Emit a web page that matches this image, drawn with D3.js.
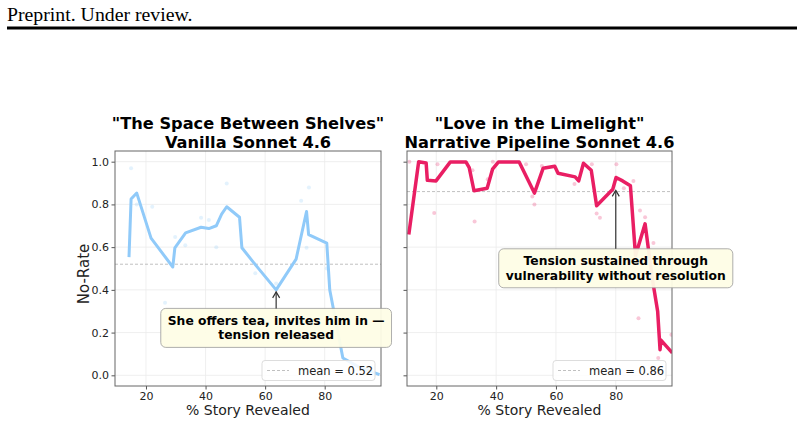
<!DOCTYPE html>
<html>
<head>
<meta charset="utf-8">
<script src="https://cdn.jsdelivr.net/npm/d3@7"></script>
<style>
  body { margin: 0; background: #ffffff; }
  svg text { font-family: "DejaVu Sans", sans-serif; }
</style>
</head>
<body>
<div id="chart"></div>
<script>
// smoothed no-rate curves
const leftX = [14.3, 15.0, 16.9, 21.7, 29.0, 29.7, 33.3, 38.5, 41.1, 43.6, 45.4, 47.1, 51.4, 52.2, 56.7, 63.7, 70.4, 73.9, 74.6, 80.7, 81.7, 86.1, 91.1, 98.4];
const leftY = [0.553, 0.825, 0.853, 0.642, 0.507, 0.597, 0.667, 0.693, 0.687, 0.700, 0.755, 0.789, 0.740, 0.597, 0.518, 0.400, 0.544, 0.767, 0.659, 0.619, 0.399, 0.081, 0.042, 0.003];

const rightX = [10.8, 14.1, 16.6, 17.0, 19.9, 24.7, 29.9, 31.0, 32.6, 37.0, 38.8, 40.8, 47.7, 52.8, 55.7, 59.6, 60.7, 66.4, 67.6, 69.2, 71.8, 73.6, 79.0, 80.1, 82.3, 84.9, 86.6, 89.8, 92.3, 94.0, 94.8, 95.1, 98.9];
const rightY = [0.659, 1.0, 0.994, 0.913, 0.910, 0.999, 0.999, 0.972, 0.864, 0.876, 0.965, 0.999, 0.999, 0.853, 0.969, 0.979, 0.946, 0.929, 0.910, 0.993, 0.960, 0.794, 0.871, 0.926, 0.910, 0.887, 0.560, 0.709, 0.445, 0.300, 0.120, 0.165, 0.105];

// faint raw points behind the curves
const leftDotsX = [15.0, 16.9, 22.1, 26.4, 29.8, 33.2, 38.5, 41.1, 43.6, 47.1, 56.7, 63.7, 72.1, 73.9, 74.7, 80.7];
const leftDotsY = [0.969, 0.80, 0.789, 0.34, 0.648, 0.609, 0.738, 0.727, 0.599, 0.898, 0.478, 0.43, 0.817, 0.597, 0.879, 0.50];
const rightDotsX = [11.0, 19.3, 20.4, 32.1, 32.8, 37.2, 38.9, 50.0, 52.1, 52.8, 55.3, 66.2, 67.6, 72.0, 73.6, 74.7, 80.2, 82.7, 85.9, 87.6, 88.1, 89.8, 92.6, 94.2, 98.6];
const rightDotsY = [1.0, 0.76, 0.988, 0.96, 0.72, 0.918, 1.0, 0.988, 0.837, 0.80, 0.98, 0.895, 0.918, 0.988, 0.758, 0.737, 0.988, 0.876, 0.91, 0.267, 0.771, 0.74, 0.619, 0.081, 0.19];

const xTicks = [20, 40, 60, 80];
const yTicks = [0.0, 0.2, 0.4, 0.6, 0.8, 1.0];

const panels = [
    {
        title: ['"The Space Between Shelves"', 'Vanilla Sonnet 4.6'],
        xs: leftX, ys: leftY, dotsX: leftDotsX, dotsY: leftDotsY,
        mean: 0.52, color: '#90caf9', lineWidth: 3,
        note: ['She offers tea, invites him in \u2014', 'tension released'],
        noteAt: [63.7, 0.40], noteY: 0.222,
        left: 115, right: 381, xDomain: [9.6, 98.9], showY: true
    },
    {
        title: ['"Love in the Limelight"', 'Narrative Pipeline Sonnet 4.6'],
        xs: rightX, ys: rightY, dotsX: rightDotsX, dotsY: rightDotsY,
        mean: 0.86, color: '#e91e63', lineWidth: 3.5,
        note: ['Tension sustained through', 'vulnerability without resolution'],
        noteAt: [80.0, 0.875], noteY: 0.501,
        left: 407, right: 672, xDomain: [10.2, 98.8], showY: false
    }
];

const W = 804, H = 424;
const plotTop = 151, plotBottom = 386;

const svg = d3.select('#chart').append('svg')
    .attr('width', W)
    .attr('height', H);

// page header
svg.append('text')
    .attr('x', 7)
    .attr('y', 21)
    .style('font-family', '"Liberation Serif", "Times New Roman", serif')
    .style('font-size', '19.8px')
    .attr('fill', '#000')
    .text('Preprint. Under review.');

svg.append('line')
    .attr('x1', 7).attr('x2', 797)
    .attr('y1', 28).attr('y2', 28)
    .attr('stroke', '#000')
    .attr('stroke-width', 3);

const defs = svg.append('defs');
panels.forEach((p, i) => {
    defs.append('clipPath').attr('id', 'clip' + i)
        .append('rect')
        .attr('x', p.left).attr('y', plotTop)
        .attr('width', p.right - p.left).attr('height', plotBottom - plotTop);
});

panels.forEach((p, i) => {
    const x = d3.scaleLinear().domain(p.xDomain).range([p.left, p.right]);
    const y = d3.scaleLinear().domain([-0.05, 1.05]).range([plotBottom, plotTop]);
    const g = svg.append('g');

    // grid
    g.append('g').selectAll('line').data(xTicks).join('line')
        .attr('x1', d => x(d)).attr('x2', d => x(d))
        .attr('y1', plotTop).attr('y2', plotBottom)
        .attr('stroke', '#ebebeb').attr('stroke-width', 0.8);
    g.append('g').selectAll('line').data(yTicks).join('line')
        .attr('x1', p.left).attr('x2', p.right)
        .attr('y1', d => y(d)).attr('y2', d => y(d))
        .attr('stroke', '#ebebeb').attr('stroke-width', 0.8);

    // mean line
    g.append('line')
        .attr('x1', p.left).attr('x2', p.right)
        .attr('y1', y(p.mean)).attr('y2', y(p.mean))
        .attr('stroke', '#b0b0b0').attr('stroke-width', 0.8)
        .attr('stroke-dasharray', '3,2');

    const plot = g.append('g').attr('clip-path', 'url(#clip' + i + ')');

    // raw points
    plot.selectAll('circle').data(p.dotsX).join('circle')
        .attr('cx', d => x(d))
        .attr('cy', (d, k) => y(p.dotsY[k]))
        .attr('r', 2)
        .attr('fill', p.color)
        .attr('opacity', 0.25);

    // curve
    const pts = p.xs.map((d, k) => [d, p.ys[k]]);
    plot.append('path')
        .datum(pts)
        .attr('d', d3.line().x(d => x(d[0])).y(d => y(d[1])))
        .attr('fill', 'none')
        .attr('stroke', p.color)
        .attr('stroke-width', p.lineWidth)
        .attr('stroke-linejoin', 'round');

    // axes
    const xAxis = d3.axisBottom(x).tickValues(xTicks).tickSize(3.5).tickPadding(2.5);
    const gx = g.append('g').attr('transform', `translate(0,${plotBottom})`).call(xAxis);
    const yAxis = d3.axisLeft(y).tickValues(yTicks).tickSize(3.5).tickPadding(2.5)
        .tickFormat(p.showY ? d3.format('.1f') : () => '');
    const gy = g.append('g').attr('transform', `translate(${p.left},0)`).call(yAxis);
    [gx, gy].forEach(a => {
        a.select('.domain').remove();
        a.selectAll('.tick line').attr('stroke', '#555');
        a.selectAll('.tick text')
            .style('font-size', '11px')
            .attr('fill', '#222');
    });

    // frame
    g.append('rect')
        .attr('x', p.left).attr('y', plotTop)
        .attr('width', p.right - p.left).attr('height', plotBottom - plotTop)
        .attr('fill', 'none')
        .attr('stroke', '#666').attr('stroke-width', 1);

    // title
    const cx = (p.left + p.right) / 2;
    p.title.forEach((t, k) => {
        g.append('text')
            .attr('x', cx).attr('y', 129 + k * 18.5)
            .attr('text-anchor', 'middle')
            .style('font-size', '16.2px')
            .style('font-weight', 'bold')
            .attr('fill', '#000')
            .text(t);
    });

    // x label
    g.append('text')
        .attr('x', cx).attr('y', 415)
        .attr('text-anchor', 'middle')
        .style('font-size', '14px')
        .attr('fill', '#222')
        .text('% Story Revealed');

    if (p.showY) {
        g.append('text')
            .attr('transform', 'translate(89,274) rotate(-90)')
            .attr('text-anchor', 'middle')
            .style('font-size', '15px')
            .attr('fill', '#222')
            .text('No-Rate');
    }

    // legend
    const lg = g.append('g');
    const lgW = 113, lgH = 20;
    const lgX = p.right - 6 - lgW, lgY = plotBottom - 5.5 - lgH;
    lg.append('rect')
        .attr('x', lgX).attr('y', lgY)
        .attr('width', lgW).attr('height', lgH)
        .attr('rx', 3)
        .attr('fill', 'rgba(255,255,255,0.85)')
        .attr('stroke', '#dddddd');
    lg.append('line')
        .attr('x1', lgX + 5).attr('x2', lgX + 27)
        .attr('y1', lgY + lgH / 2).attr('y2', lgY + lgH / 2)
        .attr('stroke', '#b0b0b0').attr('stroke-width', 0.8)
        .attr('stroke-dasharray', '3,2');
    lg.append('text')
        .attr('x', lgX + 36).attr('y', lgY + lgH / 2 + 4)
        .style('font-size', '11.5px')
        .attr('fill', '#222')
        .text('mean = ' + p.mean.toFixed(2));

    // annotation
    const ax = x(p.noteAt[0]), ay = y(p.noteAt[1]);
    const by = y(p.noteY);
    const ng = svg.append('g');
    const texts = p.note.map((t, k) => ng.append('text')
        .attr('x', ax).attr('y', by - 3 + k * 14.5)
        .attr('text-anchor', 'middle')
        .style('font-size', '12.3px')
        .style('font-weight', 'bold')
        .attr('fill', '#000')
        .text(t));
    const bw = d3.max(texts, t => t.node().getComputedTextLength()) + 14;
    const bh = 39;
    const boxTop = by - bh / 2;
    ng.insert('rect', 'text')
        .attr('x', ax - bw / 2).attr('y', boxTop)
        .attr('width', bw).attr('height', bh)
        .attr('rx', 5)
        .attr('fill', '#fefde6')
        .attr('fill-opacity', 0.95)
        .attr('stroke', '#999999').attr('stroke-width', 0.8);
    ng.append('line')
        .attr('x1', ax).attr('x2', ax)
        .attr('y1', boxTop).attr('y2', ay + 2)
        .attr('stroke', '#333').attr('stroke-width', 1.2);
    ng.append('path')
        .attr('d', `M${ax - 3.5},${ay + 8} L${ax},${ay + 2} L${ax + 3.5},${ay + 8}`)
        .attr('fill', 'none')
        .attr('stroke', '#333').attr('stroke-width', 1.2);
});
</script>
</body>
</html>
